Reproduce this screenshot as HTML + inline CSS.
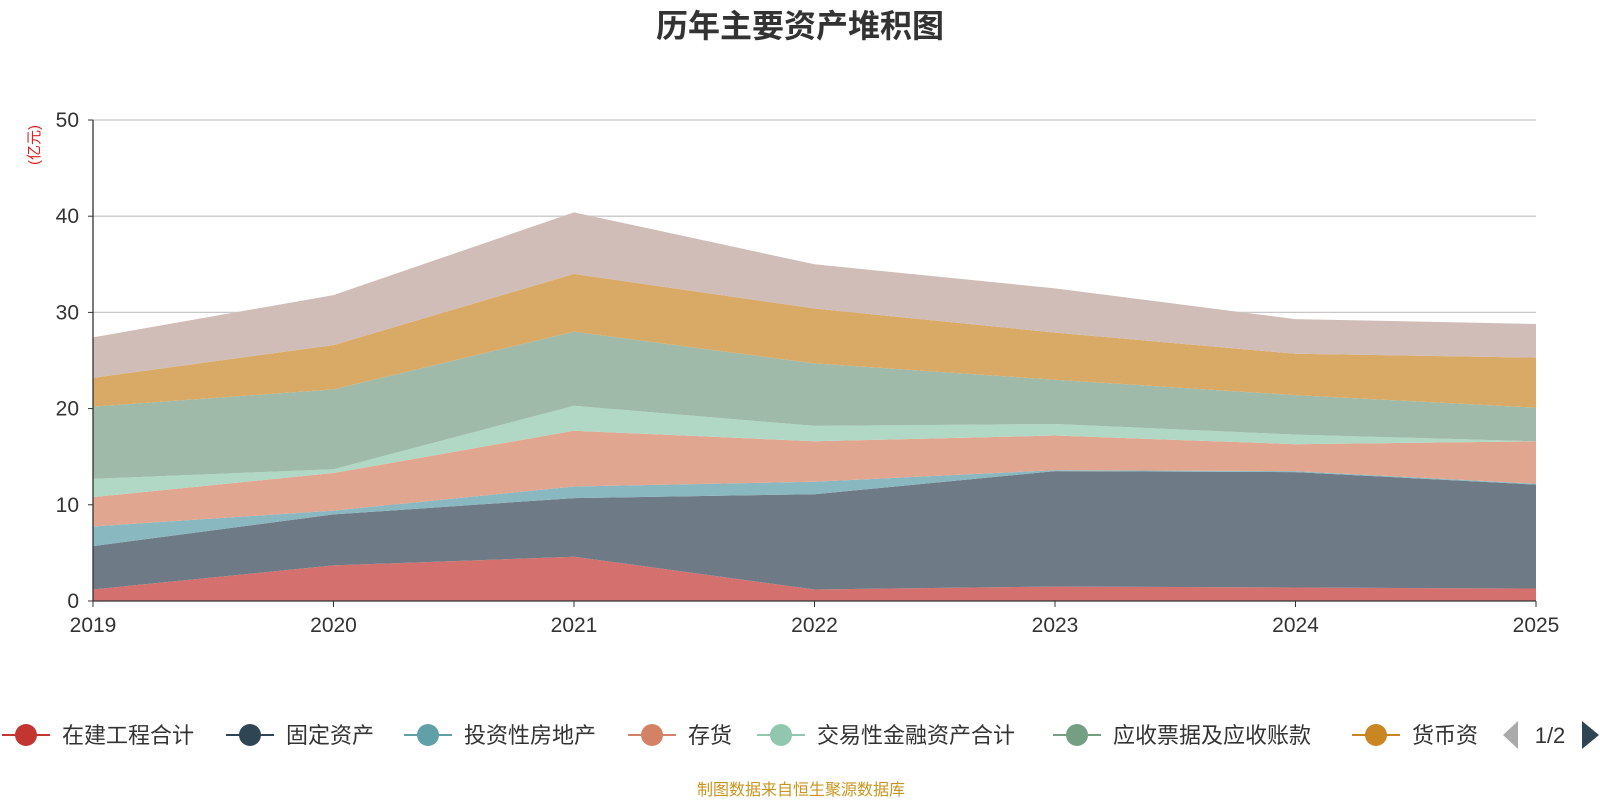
<!DOCTYPE html>
<html><head><meta charset="utf-8"><style>
body{margin:0;background:#fff;font-family:"Liberation Sans","Noto Sans CJK SC",sans-serif;}
svg text{font-family:"Liberation Sans","Noto Sans CJK SC",sans-serif;}
</style></head><body>
<svg id="c" width="1600" height="800" xmlns="http://www.w3.org/2000/svg">
<text x="800" y="37" text-anchor="middle" font-size="32" font-weight="bold" fill="#333">历年主要资产堆积图</text>
<text transform="translate(39,145) rotate(-90)" text-anchor="middle" font-size="15" fill="#e02020">(亿元)</text>
<g id="grid"></g><g id="areas"></g><g id="axes"></g>
<text x="801" y="795" text-anchor="middle" font-size="16" fill="#c8961e">制图数据来自恒生聚源数据库</text>
<g id="legend"></g>
</svg>
<script>
const years=["2019","2020","2021","2022","2023","2024","2025"];
const yTicks=[0,10,20,30,40,50];
const seriesNames=["在建工程合计","固定资产","投资性房地产","存货","交易性金融资产合计","应收票据及应收账款","货币资金","其他"];
const s0=[1.2,3.7,4.6,1.2,1.5,1.4,1.3];
const s1=[4.5,5.3,6.1,9.9,12.0,12.0,10.8];
const s2=[2.05,0.4,1.2,1.3,0.1,0.1,0.1];
const s3=[3.05,3.9,5.8,4.2,3.6,2.8,4.4];
const s4=[1.9,0.4,2.6,1.6,1.2,1.0,0.0];
const s5=[7.5,8.3,7.7,6.5,4.6,4.1,3.5];
const s6=[3.0,4.6,6.0,5.7,4.9,4.3,5.2];
const s7=[4.2,5.2,6.4,4.6,4.6,3.6,3.5];
const series=[s0,s1,s2,s3,s4,s5,s6,s7];
const fills=["#d4716e","#6e7b87","#8ab8c0","#e0a690","#b0d8c4","#9fbaa8","#d9aa65","#d0bdb8"];
const legColors=["#c23531","#2f4554","#61a0a8","#d48265","#91c7ae","#749f83","#ca8622"];
const X0=93,X1=1536,Y0=601,Y1=120,YMAX=50;
const xs=i=>X0+(X1-X0)*i/(years.length-1);
const ys=v=>Y0-(Y0-Y1)*v/YMAX;
const NS="http://www.w3.org/2000/svg";
function mk(t,a,p){const e=document.createElementNS(NS,t);for(const k in a)e.setAttribute(k,a[k]);p.appendChild(e);return e;}
const grid=document.getElementById('grid'),areas=document.getElementById('areas'),axes=document.getElementById('axes'),leg=document.getElementById('legend');
yTicks.forEach(t=>{
 if(t>0){const l=mk('line',{x1:X0,x2:X1,y1:ys(t),y2:ys(t),stroke:'#c8c8c8','stroke-width':1.3},grid);
 
 }
 const tx=mk('text',{x:X0-14,y:ys(t)+7,'text-anchor':'end','font-size':21,fill:'#333'},axes);tx.textContent=t;
 
 
 mk('line',{x1:X0-5,x2:X0,y1:ys(t),y2:ys(t),stroke:'#333'},axes);
});
let base=years.map(()=>0);
series.forEach((s,k)=>{
 const top=base.map((b,i)=>b+s[i]);
 let d='M'+top.map((v,i)=>xs(i)+','+ys(v)).join('L');
 for(let i=years.length-1;i>=0;i--)d+='L'+xs(i)+','+ys(base[i]);
 const p=mk('path',{d:d+'Z',fill:fills[k],stroke:'none'},areas);
 
 
 base=top;
});
mk('line',{x1:X0,x2:X0,y1:Y1,y2:Y0,stroke:'#333','stroke-width':1.3},axes);
mk('line',{x1:X0,x2:X1,y1:Y0,y2:Y0,stroke:'#333','stroke-width':1.3},axes);
years.forEach((y,i)=>{
 mk('line',{x1:xs(i),x2:xs(i),y1:Y0,y2:Y0+6,stroke:'#333'},axes);
 const t=mk('text',{x:xs(i),y:632,'text-anchor':'middle','font-size':21,fill:'#333'},axes);t.textContent=y;
 
 
});
const legX=[2,226,404,628,757,1053,1352];
seriesNames.slice(0,7).forEach((n,k)=>{
 const g=mk('g',{},leg);
 
 
 const x=legX[k];
 mk('line',{x1:x,x2:x+48,y1:735,y2:735,stroke:legColors[k],'stroke-width':2},g);
 mk('circle',{cx:x+24,cy:735,r:11,fill:legColors[k]},g);
 const t=mk('text',{x:x+60,y:743,'font-size':22,fill:'#333'},g);t.textContent=n==="货币资金"?"货币资":n;
});
const pg=mk('g',{},leg);


mk('path',{d:'M1518,721L1503,735L1518,749Z',fill:'#aaa'},pg);
const pt=mk('text',{x:1550,y:743,'text-anchor':'middle','font-size':22,fill:'#333'},pg);pt.textContent='1/2';
mk('path',{d:'M1582,721L1599,735L1582,749Z',fill:'#2f4554'},pg);
</script>
</body></html>
